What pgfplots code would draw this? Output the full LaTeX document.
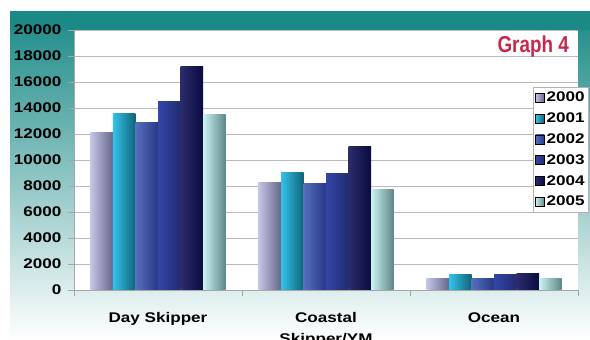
\documentclass[border=0pt]{standalone}
\usepackage{fontspec}
\setmainfont{Liberation Sans}[FakeStretch=1.22]
\newfontfamily\titlefont{Liberation Sans}[FakeStretch=0.82]
\usepackage{pgfplots}
\pgfplotsset{compat=1.18}

% bar colours: light (left) and dark (right) edge of each shaded bar
\definecolor{frameteal}{HTML}{1B8A87}
\definecolor{midteal}{HTML}{86BDBC}
\definecolor{titlered}{HTML}{C8284C}
\definecolor{aL}{HTML}{C4C4E4}\definecolor{aR}{HTML}{66668A}
\definecolor{bL}{HTML}{34C2EA}\definecolor{bR}{HTML}{0E6478}
\definecolor{cL}{HTML}{5670BC}\definecolor{cR}{HTML}{283888}
\definecolor{dL}{HTML}{3446A8}\definecolor{dR}{HTML}{232C70}
\definecolor{eL}{HTML}{2C2C6C}\definecolor{eR}{HTML}{0A0A40}
\definecolor{fL}{HTML}{CCF2F2}\definecolor{fR}{HTML}{5E8888}

\newcommand\lbl{\fontsize{14}{21}\selectfont\bfseries}

\pgfplotsset{
  y2000/.style={left color=aL, right color=aR},
  y2001/.style={left color=bL, right color=bR},
  y2002/.style={left color=cL, right color=cR},
  y2003/.style={left color=dL, right color=dR},
  y2004/.style={left color=eL, right color=eR},
  y2005/.style={left color=fL, right color=fR},
  onebar/.style={ybar, bar width=22.5pt, bar shift=#1, draw=none, forget plot},
}

\begin{document}
\begin{tikzpicture}
\path[use as bounding box, clip] (0pt,0pt) rectangle (590pt,340pt);
\fill[white] (0pt,0pt) rectangle (590pt,340pt);
% teal frame fading to white
\shade[top color=frameteal, middle color=midteal, bottom color=white]
  (10pt,0pt) rectangle (590pt,328pt);
\fill[frameteal] (10pt,310pt) rectangle (590pt,328pt);

\begin{axis}[
  at={(74pt,50pt)}, anchor=south west,
  scale only axis, width=504pt, height=260pt,
  axis background/.style={fill=white},
  xmin=-0.5, xmax=2.5, ymin=0, ymax=20000,
  axis x line*=bottom, axis y line*=left,
  axis line style={gray!70, line width=0.8pt},
  ytick={0,2000,...,20000},
  scaled y ticks=false,
  yticklabel style={/pgf/number format/1000 sep={}, /pgf/number format/assume math mode=true,
    font=\lbl, xshift=-3pt},
  ymajorgrids, grid style={gray!55, line width=0.9pt},
  y tick style={gray!70, line width=0.8pt}, tick align=outside,
  major tick length=6pt,
  xtick={0,1,2},
  xticklabels={Day Skipper, Coastal\\Skipper/YM, Ocean},
  xticklabel style={font=\lbl, align=center, anchor=north, yshift=-13pt},
  x tick style={draw=none},
  extra x ticks={-0.5,0.5,1.5,2.5},
  extra x tick labels={},
  extra x tick style={x tick style={draw=gray!70, line width=0.8pt}},
  legend style={at={(0.9107,0.7808)}, anchor=north west, draw=gray!60, fill=white,
    font=\lbl, row sep=5.5pt, inner xsep=2pt, inner ysep=3pt},
  legend cell align=left,
  legend image code/.code={\fill[#1] (0pt,-4.5pt) rectangle (9pt,4.5pt);},
  clip=false,
]
% Day Skipper
\addplot[onebar=-56.25pt, y2000] coordinates {(0,12100)};
\addplot[onebar=-33.75pt, y2001] coordinates {(0,13600)};
\addplot[onebar=-11.25pt, y2002] coordinates {(0,12900)};
\addplot[onebar=11.25pt,  y2003] coordinates {(0,14500)};
\addplot[onebar=33.75pt,  y2004] coordinates {(0,17200)};
\addplot[onebar=56.25pt,  y2005] coordinates {(0,13500)};
% Coastal Skipper/YM
\addplot[onebar=-56.25pt, y2000] coordinates {(1,8300)};
\addplot[onebar=-33.75pt, y2001] coordinates {(1,9000)};
\addplot[onebar=-11.25pt, y2002] coordinates {(1,8200)};
\addplot[onebar=11.25pt,  y2003] coordinates {(1,8950)};
\addplot[onebar=33.75pt,  y2004] coordinates {(1,11000)};
\addplot[onebar=56.25pt,  y2005] coordinates {(1,7700)};
% Ocean
\addplot[onebar=-56.25pt, y2000] coordinates {(2,900)};
\addplot[onebar=-33.75pt, y2001] coordinates {(2,1180)};
\addplot[onebar=-11.25pt, y2002] coordinates {(2,870)};
\addplot[onebar=11.25pt,  y2003] coordinates {(2,1230)};
\addplot[onebar=33.75pt,  y2004] coordinates {(2,1280)};
\addplot[onebar=56.25pt,  y2005] coordinates {(2,920)};

\addlegendimage{y2000}\addlegendentry{2000}
\addlegendimage{y2001}\addlegendentry{2001}
\addlegendimage{y2002}\addlegendentry{2002}
\addlegendimage{y2003}\addlegendentry{2003}
\addlegendimage{y2004}\addlegendentry{2004}
\addlegendimage{y2005}\addlegendentry{2005}
\end{axis}

\node[anchor=base east, text=titlered, inner sep=0pt,
      font=\titlefont\fontsize{23}{28}\selectfont\bfseries] at (569pt,287pt) {Graph 4};
\end{tikzpicture}
\end{document}
